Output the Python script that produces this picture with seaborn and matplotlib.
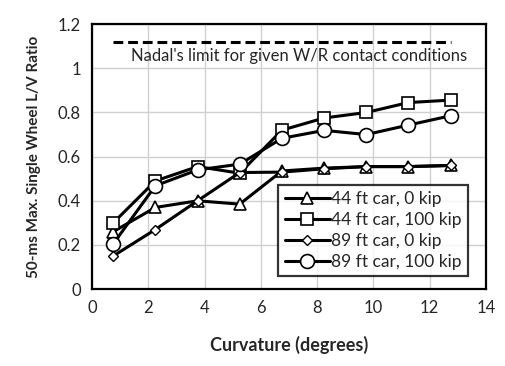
import matplotlib
matplotlib.use("Agg")
import matplotlib.pyplot as plt
import seaborn as sns
import pandas as pd

curvature = [0.75, 2.25, 3.75, 5.25, 6.75, 8.25, 9.75, 11.25, 12.75]
car44_0kip = [0.26, 0.37, 0.40, 0.385, 0.535, 0.548, 0.555, 0.555, 0.56]
car44_100kip = [0.30, 0.49, 0.555, 0.525, 0.72, 0.775, 0.80, 0.845, 0.856]
car89_0kip = [0.15, 0.27, 0.40, 0.528, 0.53, 0.545, 0.555, 0.555, 0.56]
car89_100kip = [0.205, 0.468, 0.54, 0.566, 0.683, 0.719, 0.70, 0.743, 0.785]
series_names = ["44 ft car, 0 kip", "44 ft car, 100 kip", "89 ft car, 0 kip", "89 ft car, 100 kip"]
markers = ["^", "s", "D", "o"]
marker_sizes = [8, 9, 5.5, 10]
nadal_limit = 1.12
nadal_x = [0.75, 12.75]
nadal_text = "Nadal's limit for given W/R contact conditions"
xticks = [0, 2, 4, 6, 8, 10, 12, 14]
yticks = [0, 0.2, 0.4, 0.6, 0.8, 1.0, 1.2]
ytick_labels = ["0", "0.2", "0.4", "0.6", "0.8", "1", "1.2"]

sns.set_style("white")
plt.rcParams["font.family"] = ["Lato", "DejaVu Sans"]

fig = plt.figure(figsize=(5.06, 3.66), dpi=100)
ax = fig.add_axes([0.182, 0.210, 0.778, 0.724])

values = [car44_0kip, car44_100kip, car89_0kip, car89_100kip]
for name, vals, mk, ms in zip(series_names, values, markers, marker_sizes):
    df = pd.DataFrame({"x": curvature, "y": vals})
    sns.lineplot(data=df, x="x", y="y", ax=ax, color="black", linewidth=2.2,
                 marker=mk, markersize=ms, markerfacecolor="white",
                 markeredgecolor="black", markeredgewidth=1.0 if mk == "D" else 1.2,
                 label=name)

df_n = pd.DataFrame({"x": nadal_x, "y": [nadal_limit, nadal_limit]})
sns.lineplot(data=df_n, x="x", y="y", ax=ax, color="black", linewidth=2.2,
             linestyle=(0, (3.2, 1.6)), legend=False)
ax.text(7.35, 1.058, nadal_text, ha="center", va="center", fontsize=12)

ax.set_xlim(0, 14)
ax.set_ylim(0, 1.2)
ax.set_xticks(xticks)
ax.set_yticks(yticks)
ax.set_yticklabels(ytick_labels)
ax.tick_params(axis="both", labelsize=12, length=0, pad=8)
ax.grid(True, color="#d0d0d0", linewidth=1.0)
ax.set_axisbelow(True)
for s in ax.spines.values():
    s.set_color("black")
    s.set_linewidth(1.6)
ax.set_xlabel("Curvature (degrees)", fontsize=13, fontweight="bold", labelpad=14)
ax.set_ylabel("50-ms Max. Single Wheel L/V Ratio", fontsize=11, fontweight="bold", labelpad=12)

leg = ax.legend(loc="lower right", fontsize=12.5, frameon=True, fancybox=False,
                borderpad=0.35, handlelength=2.6, handletextpad=0.1, labelspacing=0.3,
                bbox_to_anchor=(0.977, 0.015))
leg.get_frame().set_edgecolor("black")
leg.get_frame().set_linewidth(1.6)

fig.savefig("out.png", dpi=100)
